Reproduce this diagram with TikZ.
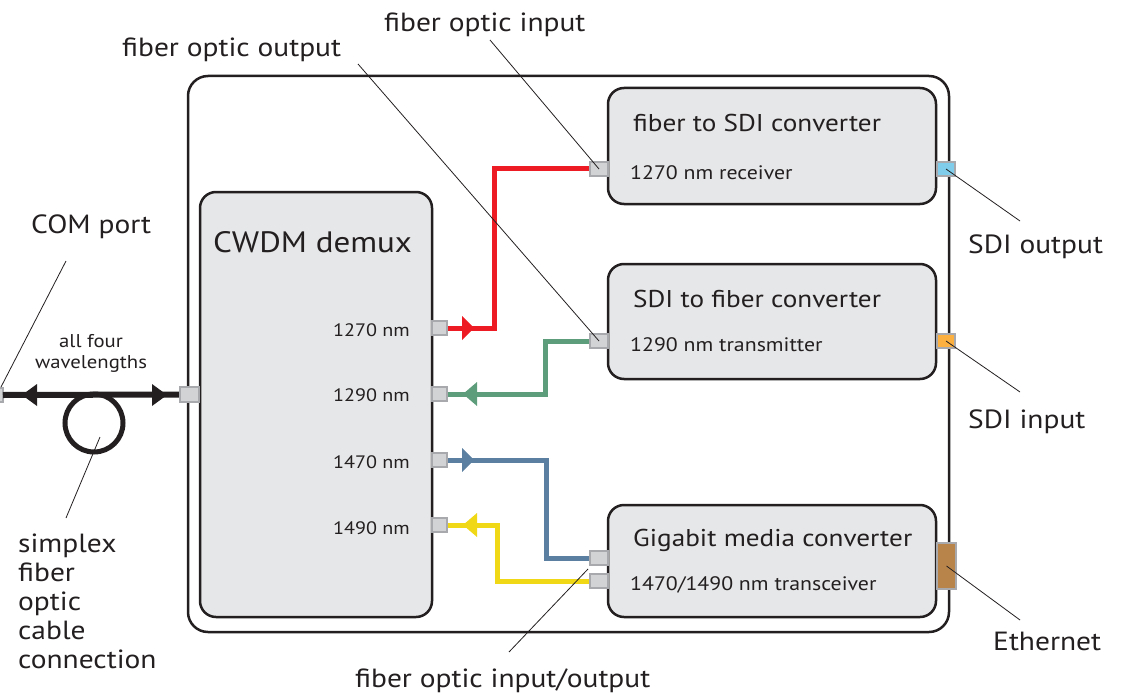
\documentclass[tikz,border=0pt]{standalone}
\usepackage{fontspec}
\setmainfont[FakeStretch=1.12]{PT Sans}
\usetikzlibrary{positioning}
\definecolor{txt}{HTML}{231F20}
\definecolor{boxfill}{HTML}{E6E7E8}
\definecolor{portfill}{HTML}{D1D3D4}
\definecolor{portline}{HTML}{A7A9AC}
\definecolor{cred}{HTML}{ED1C24}
\definecolor{cgreen}{HTML}{5E9D7C}
\definecolor{cblue}{HTML}{5B7FA0}
\definecolor{cyellow}{HTML}{F0D817}
\definecolor{csdiout}{HTML}{7FCDEA}
\definecolor{csdiin}{HTML}{FBB040}
\definecolor{ceth}{HTML}{B9844A}
\tikzset{
  x=1pt, y=-1pt,
  outerbox/.style={draw=txt, line width=2.5pt, rounded corners=20pt, inner sep=0pt, outer sep=0pt, anchor=north west},
  unitbox/.style={draw=txt, fill=boxfill, line width=2.5pt, rounded corners=16pt, inner sep=0pt, outer sep=0pt, anchor=north west},
  port/.style={draw=portline, fill=portfill, line width=1.5pt, inner sep=0pt, outer sep=0pt, minimum width=15pt, minimum height=14pt},
  wide port/.style={port, minimum width=18pt},
  fiberline/.style={line width=5pt, line join=miter},
  leader/.style={draw=txt, line width=0.8pt},
  lbl/.style={text=txt, font=\fontsize{26.3}{29}\selectfont, inner sep=0pt, anchor=base west},
  title/.style={text=txt, font=\fontsize{24.3}{28}\selectfont, inner sep=0pt, anchor=base west},
  small/.style={text=txt, font=\fontsize{19.5}{22}\selectfont, inner sep=0pt, anchor=base west},
  wl/.style={text=txt, font=\fontsize{18}{21}\selectfont, inner sep=0pt, anchor=base east},
}
\begin{document}
\begin{tikzpicture}
\useasboundingbox (0,0) rectangle (1131,695);
% boxes
\node[outerbox, minimum width=761pt, minimum height=556pt] (outer) at (188,76) {};
\node[unitbox, minimum width=232pt, minimum height=425pt] (demux) at (200,192) {};
\node[unitbox, minimum width=328pt, minimum height=116pt] (f2s) at (608,88) {};
\node[unitbox, minimum width=328pt, minimum height=115pt] (s2f) at (608,264) {};
\node[unitbox, minimum width=328pt, minimum height=112pt] (gig) at (608,505) {};
% box texts
\node[text=txt, font=\fontsize{29.5}{34}\selectfont, inner sep=0pt, anchor=base west] (demuxT) at (213,252) {CWDM demux};
\node[wl] (w1270) at (410,336) {1270 nm};
\node[wl] (w1290) at (410,401) {1290 nm};
\node[wl] (w1470) at (410,468) {1470 nm};
\node[wl] (w1490) at (410,534) {1490 nm};
\node[title] (f2sT) at (633,132) {fiber to SDI converter};
\node[small] (f2sS) at (630,179) {1270 nm receiver};
\node[title] (s2fT) at (633,307) {SDI to fiber converter};
\node[small] (s2fS) at (630,351) {1290 nm transmitter};
\node[title] (gigT) at (633,546) {Gigabit media converter};
\node[small] (gigS) at (630,590) {1470/1490 nm transceiver};
% COM line and loop
\node[port, minimum width=14pt] (comL) at (-4,395) {};
\node[port, minimum width=19pt, minimum height=15pt] (comR) at (189.5,394.5) {};
\draw[txt, line width=6pt] (comL.east) -- (comR.west);
\node[circle, draw=txt, line width=5pt, minimum size=58pt, inner sep=0pt] (loop) at (94,423) {};
\fill[txt] (22,395) -- (37,384) -- (37,406) -- cycle;
\fill[txt] (167,395) -- (152,384) -- (152,406) -- cycle;
\node[port, minimum width=19pt, minimum height=15pt] at (comR) {};
\node[text=txt, font=\fontsize{18.5}{21}\selectfont, inner sep=0pt, anchor=base] (allfour) at (91,347) {all four};
\node[text=txt, font=\fontsize{18.5}{21}\selectfont, inner sep=0pt, anchor=base] (wavel) at (91,368) {wavelengths};
% demux ports
\node[port] (d1270) at (439.5,328) {};
\node[port] (d1290) at (439.5,394) {};
\node[port] (d1470) at (439.5,460) {};
\node[port] (d1490) at (439.5,525) {};
% converter ports
\node[wide port] (pRx) at (599,169) {};
\node[wide port] (pTx) at (599,341) {};
\node[wide port] (pG1) at (599,558) {};
\node[wide port] (pG2) at (599,581) {};
\node[wide port, fill=csdiout] (sdiOut) at (946,169) {};
\node[wide port, fill=csdiin] (sdiIn) at (946,341) {};
\node[port, fill=ceth, minimum width=19pt, minimum height=46pt] (eth) at (946.5,566) {};
% fiber connections
\draw[fiberline, cred] (d1270.east) -- ([xshift=47pt]d1270.east) |- (pRx.west);
\fill[cred] (474,328) -- (462,316) -- (462,340) -- cycle;
\draw[fiberline, cgreen] (pTx.west) -- ([xshift=-45pt]pTx.west) |- (d1290.east);
\fill[cgreen] (463,394) -- (477,382) -- (477,406) -- cycle;
\draw[fiberline, cblue] (d1470.east) -- ([xshift=99pt]d1470.east) |- (pG1.west);
\fill[cblue] (474,460) -- (462,448) -- (462,472) -- cycle;
\draw[fiberline, cyellow] (pG2.west) -- ([xshift=-93pt]pG2.west) |- (d1490.east);
\fill[cyellow] (463,525) -- (477,513) -- (477,537) -- cycle;
% redraw ports on top of lines
\node[port] at (d1270) {};
\node[port] at (d1290) {};
\node[port] at (d1470) {};
\node[port] at (d1490) {};
\node[wide port] at (pRx) {};
\node[wide port] at (pTx) {};
\node[wide port] at (pG1) {};
\node[wide port] at (pG2) {};
% labels
\node[lbl] (lFin) at (384,32) {fiber optic input};
\node[lbl] (lFout) at (122,57) {fiber optic output};
\node[lbl] (lCom) at (31,233) {COM port};
\node[lbl] (lSdiOut) at (968,253) {SDI output};
\node[lbl] (lSdiIn) at (968,428) {SDI input};
\node[lbl] (lEth) at (993,650) {Ethernet};
\node[lbl] (lFio) at (355,687) {fiber optic input/output};
\node[lbl] (lS1) at (18,552) {simplex};
\node[lbl] (lS2) at (18,581) {fiber};
\node[lbl] (lS3) at (18,610) {optic};
\node[lbl] (lS4) at (18,639) {cable};
\node[lbl] (lS5) at (18,668) {connection};
% leader lines
\coordinate (aFin) at (490,40);
\coordinate (aFout) at (358,64);
\coordinate (aCom) at (66,261);
\coordinate (bCom) at (1,387);
\coordinate (aSdiOut) at (1020,221);
\coordinate (aSdiIn) at (1020,392);
\coordinate (aEth) at (1020,620);
\coordinate (aFio) at (509,652);
\coordinate (bFio) at (588,569);
\coordinate (aLoop) at (66,518);
\coordinate (bLoop) at (100,437);
\draw[leader] (aFin) -- (pRx.center);
\draw[leader] (aFout) -- (pTx.center);
\draw[leader] (aCom) -- (bCom);
\draw[leader] (sdiOut.center) -- (aSdiOut);
\draw[leader] (sdiIn.center) -- (aSdiIn);
\draw[leader] (eth.center) -- (aEth);
\draw[leader] (aFio) -- (bFio);
\draw[leader] (aLoop) -- (bLoop);
\end{tikzpicture}
\end{document}
